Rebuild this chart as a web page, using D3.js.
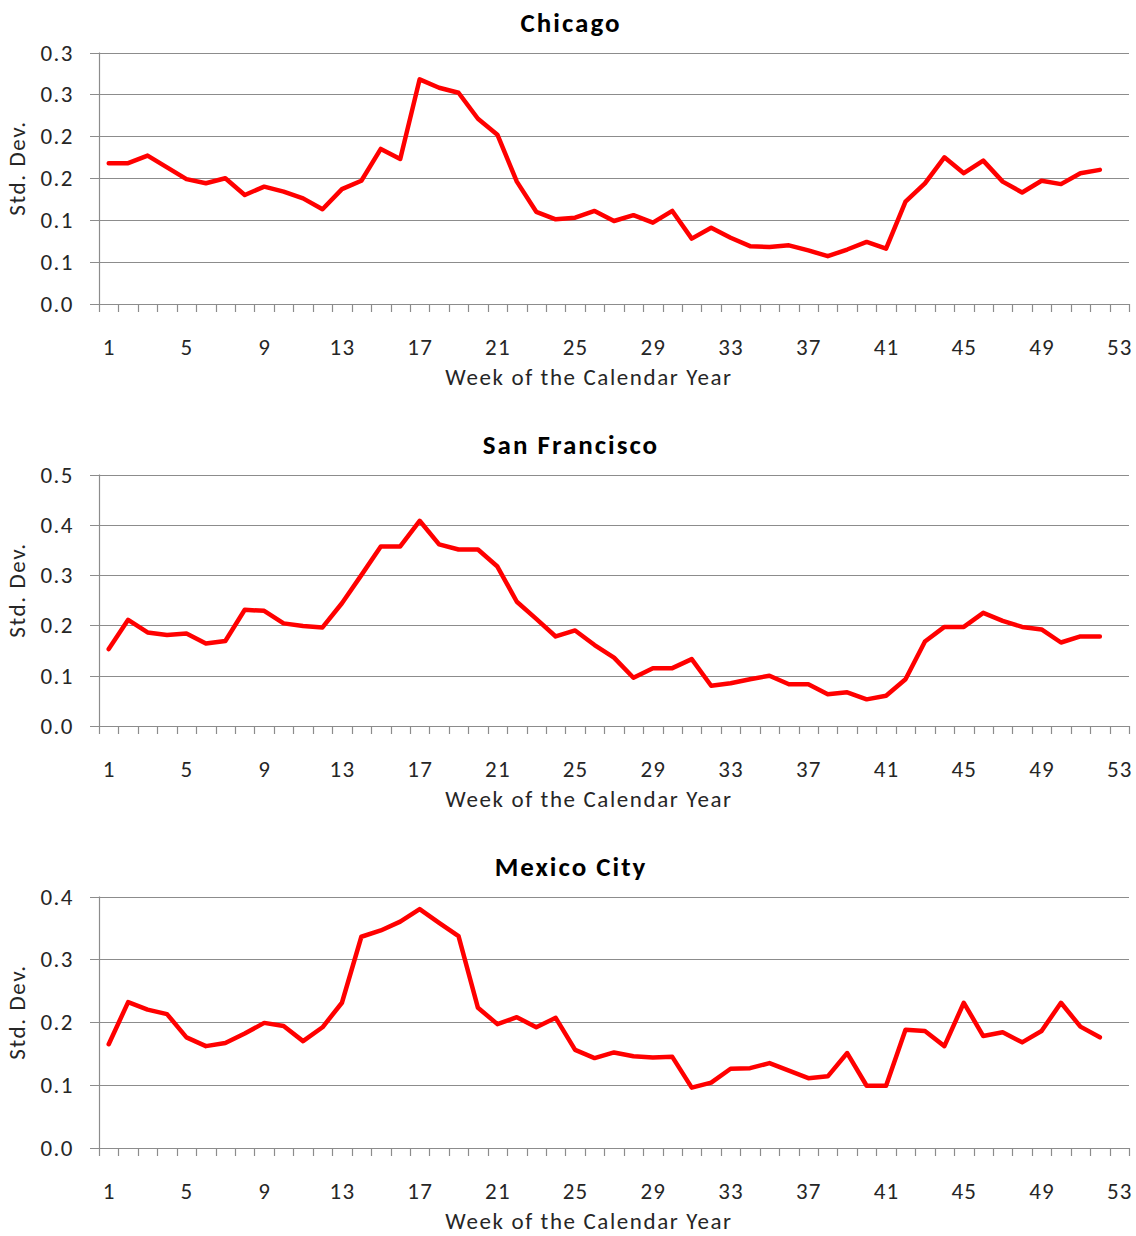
<!DOCTYPE html>
<html>
<head>
<meta charset="utf-8">
<script src="https://cdn.jsdelivr.net/npm/d3@7"></script>
<style>
  html, body { margin: 0; padding: 0; background: #fff; }
  svg { display: block; font-family: Carlito, Calibri, Lato, "Open Sans", sans-serif; }
</style>
</head>
<body>
<svg id="chart" width="1136" height="1236"></svg>
<script>
// Weeks of the calendar year (category axis has 53 slots)
const weeks = d3.range(1, 54);
const weekLabels = [1, 5, 9, 13, 17, 21, 25, 29, 33, 37, 41, 45, 49, 53];

// Weekly standard deviation, weeks 1..52
const chicago = [
  0.168, 0.168, 0.177, 0.163, 0.149, 0.144, 0.150, 0.130, 0.140, 0.134,
  0.126, 0.113, 0.137, 0.147, 0.185, 0.173, 0.268, 0.258, 0.252, 0.221,
  0.202, 0.146, 0.110, 0.101, 0.103, 0.111, 0.099, 0.106, 0.097, 0.111,
  0.078, 0.091, 0.079, 0.069, 0.068, 0.070, 0.064, 0.057, 0.065, 0.074,
  0.066, 0.122, 0.144, 0.175, 0.156, 0.171, 0.146, 0.133, 0.147, 0.143,
  0.156, 0.160
];
const sanFrancisco = [
  0.153, 0.211, 0.186, 0.181, 0.184, 0.164, 0.169, 0.231, 0.229, 0.204,
  0.199, 0.196, 0.244, 0.300, 0.357, 0.357, 0.408, 0.361, 0.351, 0.351,
  0.317, 0.247, 0.213, 0.178, 0.190, 0.161, 0.136, 0.096, 0.115, 0.115,
  0.133, 0.080, 0.085, 0.093, 0.100, 0.083, 0.083, 0.063, 0.067, 0.053,
  0.060, 0.093, 0.168, 0.197, 0.197, 0.225, 0.209, 0.197, 0.192, 0.166,
  0.178, 0.178
];
const mexicoCity = [
  0.165, 0.232, 0.220, 0.213, 0.176, 0.162, 0.167, 0.182, 0.199, 0.194,
  0.170, 0.192, 0.231, 0.336, 0.346, 0.360, 0.380, 0.358, 0.337, 0.223,
  0.197, 0.208, 0.192, 0.207, 0.156, 0.143, 0.152, 0.146, 0.144, 0.145,
  0.096, 0.104, 0.126, 0.127, 0.135, 0.123, 0.111, 0.114, 0.151, 0.099,
  0.099, 0.188, 0.186, 0.162, 0.231, 0.178, 0.184, 0.168, 0.186, 0.231,
  0.193, 0.176
];

// Y ticks and their printed labels (one decimal place)
const chicagoTicks = [0, 0.05, 0.1, 0.15, 0.2, 0.25, 0.3];
const chicagoTickLabels = ["0.0", "0.1", "0.1", "0.2", "0.2", "0.3", "0.3"];
const sanFranciscoTicks = [0, 0.1, 0.2, 0.3, 0.4, 0.5];
const sanFranciscoTickLabels = ["0.0", "0.1", "0.2", "0.3", "0.4", "0.5"];
const mexicoCityTicks = [0, 0.1, 0.2, 0.3, 0.4];
const mexicoCityTickLabels = ["0.0", "0.1", "0.2", "0.3", "0.4"];

const panels = [
  { title: "Chicago", values: chicago, ticks: chicagoTicks, labels: chicagoTickLabels, top: 0 },
  { title: "San Francisco", values: sanFrancisco, ticks: sanFranciscoTicks, labels: sanFranciscoTickLabels, top: 422 },
  { title: "Mexico City", values: mexicoCity, ticks: mexicoCityTicks, labels: mexicoCityTickLabels, top: 844 }
];

const svg = d3.select("#chart");
const left = 99, right = 1129, plotTop = 52.5, plotBottom = 304;
const gridColor = "#8c8c8c";
const textColor = "#262626";

const x = d3.scaleBand().domain(weeks).range([left, right]).paddingInner(0).paddingOuter(0);
const xc = w => x(w) + x.bandwidth() / 2;

panels.forEach(p => {
  const g = svg.append("g").attr("transform", `translate(0,${p.top})`);
  const y = d3.scaleLinear()
    .domain([0, p.ticks[p.ticks.length - 1]])
    .range([plotBottom, plotTop]);

  // horizontal gridlines, each with a short outward tick on the left
  g.selectAll("line.grid").data(p.ticks).join("line")
    .attr("class", "grid")
    .attr("x1", left - 9).attr("x2", right)
    .attr("y1", d => Math.round(y(d)) + 0.5).attr("y2", d => Math.round(y(d)) + 0.5)
    .attr("stroke", gridColor).attr("stroke-width", 1.2);

  // vertical axis line
  g.append("line")
    .attr("x1", left + 0.5).attr("x2", left + 0.5)
    .attr("y1", plotTop).attr("y2", plotBottom)
    .attr("stroke", gridColor).attr("stroke-width", 1.2);

  // y tick labels
  g.selectAll("text.ylab").data(p.ticks).join("text")
    .attr("class", "ylab")
    .attr("x", 74).attr("y", d => y(d))
    .attr("dy", "0.35em")
    .attr("text-anchor", "end")
    .attr("font-size", 23).attr("letter-spacing", 1.5).attr("fill", textColor)
    .text((d, i) => p.labels[i]);

  // category boundary ticks below the x axis
  const bounds = weeks.map(w => x(w)).concat([right]);
  g.selectAll("line.xtick").data(bounds).join("line")
    .attr("class", "xtick")
    .attr("x1", d => Math.round(d) + 0.5).attr("x2", d => Math.round(d) + 0.5)
    .attr("y1", plotBottom).attr("y2", plotBottom + 8)
    .attr("stroke", gridColor).attr("stroke-width", 1.2);

  // x tick labels
  g.selectAll("text.xlab").data(weekLabels).join("text")
    .attr("class", "xlab")
    .attr("x", d => xc(d) + 0.5).attr("y", 355)
    .attr("text-anchor", "middle")
    .attr("font-size", 23).attr("letter-spacing", 1.2).attr("fill", textColor)
    .text(d => d);

  // axis titles
  g.append("text")
    .attr("x", 589).attr("y", 385)
    .attr("text-anchor", "middle")
    .attr("font-size", 23).attr("letter-spacing", 1.6).attr("fill", textColor)
    .text("Week of the Calendar Year");

  g.append("text")
    .attr("transform", `translate(25,168) rotate(-90)`)
    .attr("text-anchor", "middle")
    .attr("font-size", 23).attr("letter-spacing", 1.6).attr("fill", textColor)
    .text("Std. Dev.");

  // chart title
  g.append("text")
    .attr("x", 571).attr("y", 32)
    .attr("text-anchor", "middle")
    .attr("font-size", 27).attr("letter-spacing", 2).attr("font-weight", "bold").attr("fill", "#000")
    .text(p.title);

  // data line
  const line = d3.line()
    .x((d, i) => xc(weeks[i]))
    .y(d => y(d));
  g.append("path")
    .datum(p.values)
    .attr("d", line)
    .attr("fill", "none")
    .attr("stroke", "#ff0000")
    .attr("stroke-width", 4.5)
    .attr("stroke-linejoin", "round")
    .attr("stroke-linecap", "round");
});
</script>
</body>
</html>
